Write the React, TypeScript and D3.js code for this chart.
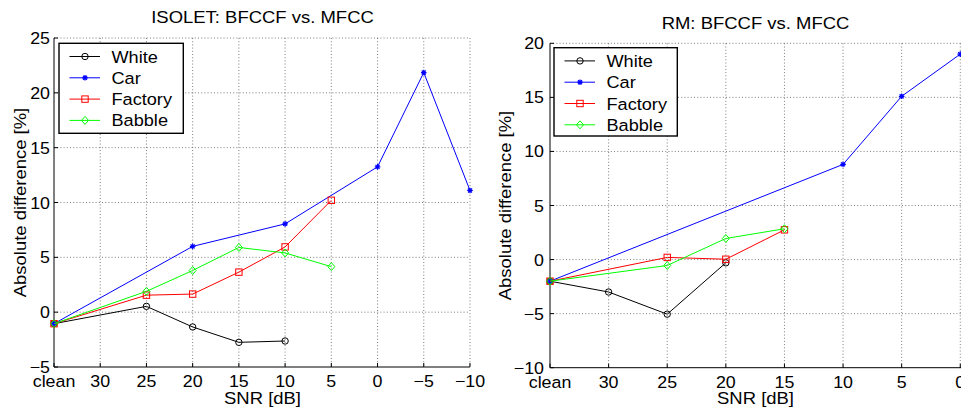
import React from "react";
import * as d3 from "d3";

const categories = ["clean", "30", "25", "20", "15", "10", "5", "0", "\u22125", "\u221210"];
const seriesNames = ["White", "Car", "Factory", "Babble"];
const seriesColors = ["#000000", "#0000ff", "#ff0000", "#00ff00"];
const seriesMarkers = ["circle", "star", "square", "diamond"];

// ISOLET panel values (null = no measurement)
const isoWhite = [-1.05, null, 0.53, -1.35, -2.75, -2.63, null, null, null, null];
const isoCar = [-1.05, null, null, 6.0, null, 8.05, null, 13.25, 21.85, 11.1];
const isoFactory = [-1.05, null, 1.55, 1.65, 3.65, 5.95, 10.2, null, null, null];
const isoBabble = [-1.05, null, 1.9, 3.8, 5.9, 5.4, 4.15, null, null, null];
const isoYTicks = [-5, 0, 5, 10, 15, 20, 25];

// RM panel values
const rmWhite = [-2.0, -3.0, -5.05, -0.3, null, null, null, null];
const rmCar = [-2.0, null, null, null, null, 8.8, 15.1, 19.0];
const rmFactory = [-2.0, null, 0.2, 0.03, 2.75, null, null, null];
const rmBabble = [-2.0, null, -0.55, 1.95, 2.85, null, null, null];
const rmYTicks = [-10, -5, 0, 5, 10, 15, 20];

const FONT = "'Liberation Sans', Arial, Helvetica, sans-serif";

function fmt(v: number) {
  return v < 0 ? "\u2212" + Math.abs(v) : String(v);
}

function T({ x, y, anchor = "middle", rot = 0, sx = 1.1, size = 16.5, children }: any) {
  return (
    <text
      transform={`translate(${x},${y}) rotate(${rot}) scale(${sx},1)`}
      textAnchor={anchor}
      fontSize={size}
      fontFamily={FONT}
      fill="#000"
    >
      {children}
    </text>
  );
}

function Marker({ type, x, y, color }: any) {
  if (type === "circle") return <circle cx={x} cy={y} r={3.2} fill="none" stroke={color} strokeWidth={1} />;
  if (type === "square")
    return <rect x={x - 3.2} y={y - 3.2} width={6.4} height={6.4} fill="none" stroke={color} strokeWidth={1} />;
  if (type === "diamond")
    return (
      <path
        d={`M${x},${y - 4}L${x + 3.5},${y}L${x},${y + 4}L${x - 3.5},${y}Z`}
        fill="none"
        stroke={color}
        strokeWidth={1}
      />
    );
  const r = 2.8;
  const q = r * 0.72;
  return (
    <path
      d={`M${x - r},${y}H${x + r}M${x},${y - r}V${y + r}M${x - q},${y - q}L${x + q},${y + q}M${x - q},${y + q}L${x + q},${y - q}`}
      stroke={color}
      strokeWidth={1.2}
    />
  );
}

function Panel({ cats, x0, step, yTop, yBot, yDomain, yTicks, series, title, titleY, legend, ylabelX, yTickGap, xExtend = 0 }: any) {
  const x = d3
    .scalePoint<string>()
    .domain(cats)
    .range([x0, x0 + step * (cats.length - 1)]);
  const y = d3.scaleLinear().domain(yDomain).range([yBot, yTop]);
  const xEnd = x(cats[cats.length - 1])! + xExtend;
  const line = d3
    .line<[number, number]>()
    .x((d) => d[0])
    .y((d) => d[1]);
  const grid = { stroke: "#444", strokeWidth: 0.7, strokeDasharray: "1,2.2" };
  return (
    <g>
      {/* grid */}
      {cats.slice(1).map((c: string) => (
        <line key={"gx" + c} x1={x(c)} x2={x(c)} y1={yTop} y2={yBot} {...grid} />
      ))}
      {yTicks.slice(1).map((t: number) => (
        <line key={"gy" + t} x1={x0} x2={xEnd} y1={y(t)} y2={y(t)} {...grid} />
      ))}
      {/* axes */}
      <line x1={x0} x2={x0} y1={yTop} y2={yBot} stroke="#000" strokeWidth={1} />
      <line x1={x0} x2={xEnd} y1={yBot} y2={yBot} stroke="#000" strokeWidth={1} />
      {cats.map((c: string) => (
        <line key={"tx" + c} x1={x(c)} x2={x(c)} y1={yBot} y2={yBot - 4} stroke="#000" strokeWidth={1} />
      ))}
      {yTicks.map((t: number) => (
        <line key={"ty" + t} x1={x0} x2={x0 + 4} y1={y(t)} y2={y(t)} stroke="#000" strokeWidth={1} />
      ))}
      {/* tick labels */}
      {cats.map((c: string) => (
        <T key={"lx" + c} x={x(c)} y={yBot + 20} sx={1.08}>
          {c}
        </T>
      ))}
      {yTicks.map((t: number) => (
        <T key={"ly" + t} x={x0 - yTickGap} y={y(t) + 6} anchor="end" sx={1.08}>
          {fmt(t)}
        </T>
      ))}
      {/* series */}
      {series.map((vals: (number | null)[], i: number) => {
        const pts: [number, number][] = [];
        vals.forEach((v, k) => {
          if (v !== null) pts.push([x(cats[k])!, y(v)]);
        });
        return (
          <g key={"s" + i}>
            <path d={line(pts) || ""} fill="none" stroke={seriesColors[i]} strokeWidth={1} />
            {pts.map((p, k) => (
              <Marker key={k} type={seriesMarkers[i]} x={p[0]} y={p[1]} color={seriesColors[i]} />
            ))}
          </g>
        );
      })}
      {/* title & labels */}
      <T x={title.x} y={titleY} sx={1.12}>
        {title.text}
      </T>
      <T x={title.x} y={403.5} sx={1.12}>
        SNR [dB]
      </T>
      <T x={ylabelX} y={(yTop + yBot) / 2} rot={-90} sx={1.12}>
        Absolute difference [%]
      </T>
      {/* legend */}
      <rect
        x={legend.x}
        y={legend.y}
        width={legend.w}
        height={legend.h}
        fill="#fff"
        stroke="#000"
        strokeWidth={1.4}
      />
      {seriesNames.map((n, i) => {
        const ly = legend.y + 13.2 + i * 21.3;
        return (
          <g key={"lg" + n}>
            <line x1={legend.x + 10.5} x2={legend.x + 41} y1={ly} y2={ly} stroke={seriesColors[i]} strokeWidth={1} />
            <Marker type={seriesMarkers[i]} x={legend.x + 26} y={ly} color={seriesColors[i]} />
            <T x={legend.x + 52.5} y={ly + 6} anchor="start" sx={1.1}>
              {n}
            </T>
          </g>
        );
      })}
    </g>
  );
}

export default function App() {
  return (
    <div style={{ position: "absolute", left: 0, top: 0, width: 961, height: 408, overflow: "hidden", background: "#fff" }}>
      <svg width={961} height={408} style={{ display: "block", overflow: "hidden" }}>
        <rect width={961} height={408} fill="#fff" />
        <Panel
          cats={categories}
          x0={54}
          step={46.22}
          yTop={38}
          yBot={367}
          yDomain={[-5, 25]}
          yTicks={isoYTicks}
          series={[isoWhite, isoCar, isoFactory, isoBabble]}
          title={{ text: "ISOLET: BFCCF vs. MFCC", x: 262.5 }}
          titleY={23.3}
          legend={{ x: 59, y: 43.3, w: 124.3, h: 90 }}
          ylabelX={25.5}
          yTickGap={4}
        />
        <Panel
          cats={categories.slice(0, 8)}
          x0={550}
          step={58.61}
          yTop={43.3}
          yBot={367.7}
          yDomain={[-10, 20]}
          yTicks={rmYTicks}
          series={[rmWhite, rmCar, rmFactory, rmBabble]}
          title={{ text: "RM: BFCCF vs. MFCC", x: 755.5 }}
          titleY={29.3}
          legend={{ x: 554, y: 47.7, w: 123.3, h: 88.3 }}
          ylabelX={511}
          yTickGap={6}
          xExtend={20}
        />
      </svg>
    </div>
  );
}
